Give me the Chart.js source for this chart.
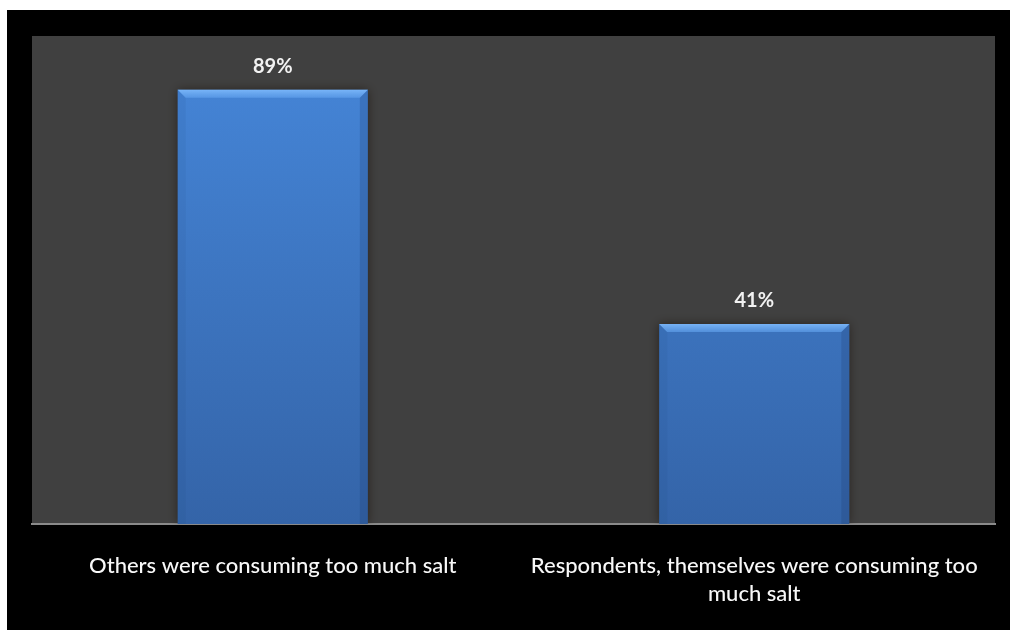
<!DOCTYPE html>
<html>
<head>
<meta charset="utf-8">
<script src="https://cdn.jsdelivr.net/npm/chart.js@4"></script>
<style>
  html, body { margin: 0; padding: 0; background: #ffffff; width: 1010px; height: 630px; overflow: hidden; }
  #frame { position: absolute; left: 7px; top: 10px; width: 1003px; height: 620px; background: #000000; }
</style>
</head>
<body>
<div id="frame"><canvas id="c"></canvas></div>
<script>
const categories = [
  'Others were consuming too much salt',
  ['Respondents, themselves were consuming too', 'much salt']
];
const values = [89, 41];
const valueLabels = ['89%', '41%'];

const FONT = 'Lato, "Open Sans", sans-serif';

const plotBg = {
  id: 'plotBg',
  beforeDraw(chart) {
    const { ctx, chartArea: a } = chart;
    ctx.save();
    ctx.fillStyle = '#404040';
    ctx.fillRect(a.left, a.top, a.right - a.left, a.bottom - a.top);
    ctx.restore();
  }
};

const barShadow = {
  id: 'barShadow',
  beforeDatasetsDraw(chart) {
    const ctx = chart.ctx;
    ctx.save();
    ctx.shadowColor = 'rgba(20,10,0,0.55)';
    ctx.shadowBlur = 10;
    ctx.shadowOffsetX = 0;
    ctx.shadowOffsetY = 0;
  },
  afterDatasetsDraw(chart) {
    const ctx = chart.ctx;
    ctx.restore();
    const meta = chart.getDatasetMeta(0);
    ctx.save();
    meta.data.forEach((bar, i) => {
      const w = bar.width;
      const l = bar.x - w / 2, r = bar.x + w / 2, t = bar.y, b = bar.base;
      const bev = 8;
      ctx.beginPath();
      ctx.moveTo(l, t); ctx.lineTo(r, t); ctx.lineTo(r - bev, t + bev); ctx.lineTo(l + bev, t + bev); ctx.closePath();
      const g = ctx.createLinearGradient(0, t, 0, t + bev);
      g.addColorStop(0, 'rgba(130,190,255,0.85)');
      g.addColorStop(1, 'rgba(100,165,240,0.6)');
      ctx.fillStyle = g; ctx.fill();
      ctx.beginPath();
      ctx.moveTo(l, t); ctx.lineTo(l + bev, t + bev); ctx.lineTo(l + bev, b); ctx.lineTo(l, b); ctx.closePath();
      ctx.fillStyle = 'rgba(30,60,110,0.08)'; ctx.fill();
      ctx.beginPath();
      ctx.moveTo(r, t); ctx.lineTo(r - bev, t + bev); ctx.lineTo(r - bev, b); ctx.lineTo(r, b); ctx.closePath();
      ctx.fillStyle = 'rgba(20,45,90,0.18)'; ctx.fill();
      ctx.fillStyle = '#f2f2f2';
      ctx.font = 'bold 20px ' + FONT;
      ctx.textAlign = 'center';
      ctx.textBaseline = 'middle';
      ctx.fillText(valueLabels[i], bar.x, t - 23);
    });
    ctx.restore();
  }
};

new Chart(document.getElementById('c'), {
  type: 'bar',
  data: {
    labels: categories,
    datasets: [{
      data: values,
      backgroundColor(ctx) {
        const a = ctx.chart.chartArea;
        if (!a) return '#3f7bcc';
        const g = ctx.chart.ctx.createLinearGradient(0, a.top, 0, a.bottom);
        g.addColorStop(0, '#4687da');
        g.addColorStop(1, '#3464a8');
        return g;
      },
      borderWidth: 0,
      barPercentage: 0.395,
      categoryPercentage: 1
    }]
  },
  options: {
    responsive: true,
    maintainAspectRatio: false,
    animation: false,
    layout: { padding: { left: 25, top: 26, right: 15, bottom: 0 } },
    plugins: { legend: { display: false }, tooltip: { enabled: false } },
    scales: {
      x: {
        grid: { display: false, drawTicks: false },
        border: { display: true, color: '#8a8a8a', width: 2 },
        ticks: {
          color: '#f8f8f8',
          font: { family: FONT, size: 22, weight: '500', lineHeight: 1.27 },
          padding: 28,
          maxRotation: 0,
          autoSkip: false
        },
        afterFit(scale) { scale.height = 106; }
      },
      y: { display: false, min: 0, max: 100 }
    }
  },
  plugins: [plotBg, barShadow]
});
</script>
</body>
</html>
